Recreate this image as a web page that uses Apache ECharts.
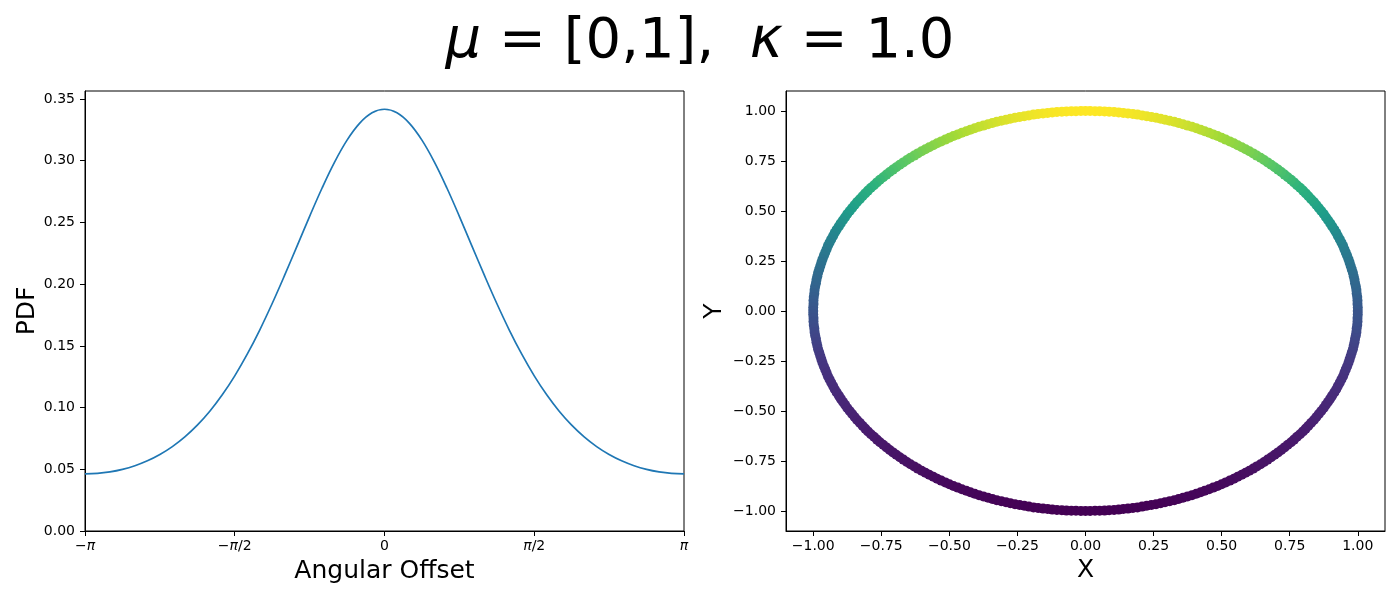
<!DOCTYPE html>
<html>
<head>
<meta charset="utf-8">
<script src="https://cdn.jsdelivr.net/npm/echarts@6/dist/echarts.min.js"></script>
<style>html,body{margin:0;padding:0;background:#fff}#c{width:1400px;height:600px}</style>
</head>
<body>
<div id="c"></div>
<script>
// ---- Left panel: von Mises PDF vs angular offset (radians) ----
const angleOffsets = [-3.14159,-3.0107,-2.8798,-2.7489,-2.6180,-2.4871,-2.3562,-2.2253,-2.0944,-1.9635,-1.8326,-1.7017,-1.5708,-1.4399,-1.3090,-1.1781,-1.0472,-0.9163,-0.7854,-0.6545,-0.5236,-0.3927,-0.2618,-0.1309,0,0.1309,0.2618,0.3927,0.5236,0.6545,0.7854,0.9163,1.0472,1.1781,1.3090,1.4399,1.5708,1.7017,1.8326,1.9635,2.0944,2.2253,2.3562,2.4871,2.6180,2.7489,2.8798,3.0107,3.14159];
const pdfValues = [0.04625,0.04664,0.04785,0.04990,0.05288,0.05686,0.06198,0.06839,0.07625,0.08574,0.09704,0.11033,0.12571,0.14324,0.16284,0.18431,0.20726,0.23108,0.25496,0.27791,0.29887,0.31667,0.33026,0.33880,0.34171,0.33880,0.33026,0.31667,0.29887,0.27791,0.25496,0.23108,0.20726,0.18431,0.16284,0.14324,0.12571,0.11033,0.09704,0.08574,0.07625,0.06839,0.06198,0.05686,0.05288,0.04990,0.04785,0.04664,0.04625];
const angleTickValues = [-3.14159,-1.5708,0,1.5708,3.14159];
const angleTickLabels = ['−π','−π/2','0','π/2','π'];
const pdfTickValues = [0,0.05,0.10,0.15,0.20,0.25,0.30,0.35];

// ---- Right panel: points on the unit circle ----
const circleX = [1.000,1.000,0.999,0.999,0.998,0.996,0.995,0.993,0.990,0.988,0.985,0.982,0.978,0.974,0.970,0.966,0.961,0.956,0.951,0.946,0.940,0.934,0.927,0.921,0.914,0.906,0.899,0.891,0.883,0.875,0.866,0.857,0.848,0.839,0.829,0.819,0.809,0.799,0.788,0.777,0.766,0.755,0.743,0.731,0.719,0.707,0.695,0.682,0.669,0.656,0.643,0.629,0.616,0.602,0.588,0.574,0.559,0.545,0.530,0.515,0.500,0.485,0.469,0.454,0.438,0.423,0.407,0.391,0.375,0.358,0.342,0.326,0.309,0.292,0.276,0.259,0.242,0.225,0.208,0.191,0.174,0.156,0.139,0.122,0.105,0.087,0.070,0.052,0.035,0.017,
0,-0.017,-0.035,-0.052,-0.070,-0.087,-0.105,-0.122,-0.139,-0.156,-0.174,-0.191,-0.208,-0.225,-0.242,-0.259,-0.276,-0.292,-0.309,-0.326,-0.342,-0.358,-0.375,-0.391,-0.407,-0.423,-0.438,-0.454,-0.469,-0.485,-0.500,-0.515,-0.530,-0.545,-0.559,-0.574,-0.588,-0.602,-0.616,-0.629,-0.643,-0.656,-0.669,-0.682,-0.695,-0.707,-0.719,-0.731,-0.743,-0.755,-0.766,-0.777,-0.788,-0.799,-0.809,-0.819,-0.829,-0.839,-0.848,-0.857,-0.866,-0.875,-0.883,-0.891,-0.899,-0.906,-0.914,-0.921,-0.927,-0.934,-0.940,-0.946,-0.951,-0.956,-0.961,-0.966,-0.970,-0.974,-0.978,-0.982,-0.985,-0.988,-0.990,-0.993,-0.995,-0.996,-0.998,-0.999,-0.999,-1.000,
-1.000,-1.000,-0.999,-0.999,-0.998,-0.996,-0.995,-0.993,-0.990,-0.988,-0.985,-0.982,-0.978,-0.974,-0.970,-0.966,-0.961,-0.956,-0.951,-0.946,-0.940,-0.934,-0.927,-0.921,-0.914,-0.906,-0.899,-0.891,-0.883,-0.875,-0.866,-0.857,-0.848,-0.839,-0.829,-0.819,-0.809,-0.799,-0.788,-0.777,-0.766,-0.755,-0.743,-0.731,-0.719,-0.707,-0.695,-0.682,-0.669,-0.656,-0.643,-0.629,-0.616,-0.602,-0.588,-0.574,-0.559,-0.545,-0.530,-0.515,-0.500,-0.485,-0.469,-0.454,-0.438,-0.423,-0.407,-0.391,-0.375,-0.358,-0.342,-0.326,-0.309,-0.292,-0.276,-0.259,-0.242,-0.225,-0.208,-0.191,-0.174,-0.156,-0.139,-0.122,-0.105,-0.087,-0.070,-0.052,-0.035,-0.017,
0,0.017,0.035,0.052,0.070,0.087,0.105,0.122,0.139,0.156,0.174,0.191,0.208,0.225,0.242,0.259,0.276,0.292,0.309,0.326,0.342,0.358,0.375,0.391,0.407,0.423,0.438,0.454,0.469,0.485,0.500,0.515,0.530,0.545,0.559,0.574,0.588,0.602,0.616,0.629,0.643,0.656,0.669,0.682,0.695,0.707,0.719,0.731,0.743,0.755,0.766,0.777,0.788,0.799,0.809,0.819,0.829,0.839,0.848,0.857,0.866,0.875,0.883,0.891,0.899,0.906,0.914,0.921,0.927,0.934,0.940,0.946,0.951,0.956,0.961,0.966,0.970,0.974,0.978,0.982,0.985,0.988,0.990,0.993,0.995,0.996,0.998,0.999,0.999,1.000];
const circleY = [0,0.017,0.035,0.052,0.070,0.087,0.105,0.122,0.139,0.156,0.174,0.191,0.208,0.225,0.242,0.259,0.276,0.292,0.309,0.326,0.342,0.358,0.375,0.391,0.407,0.423,0.438,0.454,0.469,0.485,0.500,0.515,0.530,0.545,0.559,0.574,0.588,0.602,0.616,0.629,0.643,0.656,0.669,0.682,0.695,0.707,0.719,0.731,0.743,0.755,0.766,0.777,0.788,0.799,0.809,0.819,0.829,0.839,0.848,0.857,0.866,0.875,0.883,0.891,0.899,0.906,0.914,0.921,0.927,0.934,0.940,0.946,0.951,0.956,0.961,0.966,0.970,0.974,0.978,0.982,0.985,0.988,0.990,0.993,0.995,0.996,0.998,0.999,0.999,1.000,
1.000,1.000,0.999,0.999,0.998,0.996,0.995,0.993,0.990,0.988,0.985,0.982,0.978,0.974,0.970,0.966,0.961,0.956,0.951,0.946,0.940,0.934,0.927,0.921,0.914,0.906,0.899,0.891,0.883,0.875,0.866,0.857,0.848,0.839,0.829,0.819,0.809,0.799,0.788,0.777,0.766,0.755,0.743,0.731,0.719,0.707,0.695,0.682,0.669,0.656,0.643,0.629,0.616,0.602,0.588,0.574,0.559,0.545,0.530,0.515,0.500,0.485,0.469,0.454,0.438,0.423,0.407,0.391,0.375,0.358,0.342,0.326,0.309,0.292,0.276,0.259,0.242,0.225,0.208,0.191,0.174,0.156,0.139,0.122,0.105,0.087,0.070,0.052,0.035,0.017,
0,-0.017,-0.035,-0.052,-0.070,-0.087,-0.105,-0.122,-0.139,-0.156,-0.174,-0.191,-0.208,-0.225,-0.242,-0.259,-0.276,-0.292,-0.309,-0.326,-0.342,-0.358,-0.375,-0.391,-0.407,-0.423,-0.438,-0.454,-0.469,-0.485,-0.500,-0.515,-0.530,-0.545,-0.559,-0.574,-0.588,-0.602,-0.616,-0.629,-0.643,-0.656,-0.669,-0.682,-0.695,-0.707,-0.719,-0.731,-0.743,-0.755,-0.766,-0.777,-0.788,-0.799,-0.809,-0.819,-0.829,-0.839,-0.848,-0.857,-0.866,-0.875,-0.883,-0.891,-0.899,-0.906,-0.914,-0.921,-0.927,-0.934,-0.940,-0.946,-0.951,-0.956,-0.961,-0.966,-0.970,-0.974,-0.978,-0.982,-0.985,-0.988,-0.990,-0.993,-0.995,-0.996,-0.998,-0.999,-0.999,-1.000,
-1.000,-1.000,-0.999,-0.999,-0.998,-0.996,-0.995,-0.993,-0.990,-0.988,-0.985,-0.982,-0.978,-0.974,-0.970,-0.966,-0.961,-0.956,-0.951,-0.946,-0.940,-0.934,-0.927,-0.921,-0.914,-0.906,-0.899,-0.891,-0.883,-0.875,-0.866,-0.857,-0.848,-0.839,-0.829,-0.819,-0.809,-0.799,-0.788,-0.777,-0.766,-0.755,-0.743,-0.731,-0.719,-0.707,-0.695,-0.682,-0.669,-0.656,-0.643,-0.629,-0.616,-0.602,-0.588,-0.574,-0.559,-0.545,-0.530,-0.515,-0.500,-0.485,-0.469,-0.454,-0.438,-0.423,-0.407,-0.391,-0.375,-0.358,-0.342,-0.326,-0.309,-0.292,-0.276,-0.259,-0.242,-0.225,-0.208,-0.191,-0.174,-0.156,-0.139,-0.122,-0.105,-0.087,-0.070,-0.052,-0.035,-0.017];
const circleTickValues = [-1,-0.75,-0.5,-0.25,0,0.25,0.5,0.75,1];

const titleText = '{i|μ} = [0,1],  {i|κ} = 1.0';

const FONT = 'DejaVu Sans';
const chart = echarts.init(document.getElementById('c'), null, {renderer: 'canvas'});

const linePoints = angleOffsets.map((a, i) => [a, pdfValues[i]]);
const circlePoints = circleX.map((x, i) => [x, circleY[i]]);

function fmtNum(v) { return v.toFixed(2).replace('-', '−'); }
function angleLabel(v) {
  let best = 0;
  angleTickValues.forEach((t, i) => { if (Math.abs(t - v) < Math.abs(angleTickValues[best] - v)) best = i; });
  return angleTickLabels[best].replace(/π/g, '{i|π}');
}

const axisCommon = {
  axisLine: {show: true, onZero: false, lineStyle: {color: '#000', width: 1}},
  axisTick: {show: true, length: 5, lineStyle: {color: '#000', width: 1}},
  splitLine: {show: false},
  nameTextStyle: {fontFamily: FONT, fontSize: 25, color: '#000'},
  nameLocation: 'middle'
};
const labelCommon = {fontFamily: FONT, fontSize: 14, color: '#000'};

const option = {
  animation: false,
  backgroundColor: '#fff',
  title: {
    text: titleText,
    left: 'center',
    top: 9,
    textStyle: {
      fontFamily: FONT, fontSize: 56, fontWeight: 'normal', color: '#000',
      rich: {i: {fontFamily: FONT, fontSize: 56, fontStyle: 'italic', color: '#000'}}
    }
  },
  grid: [
    {left: 85, right: 716, top: 91, bottom: 69, show: true, borderColor: '#000', borderWidth: 1},
    {left: 786, right: 15, top: 91, bottom: 69, show: true, borderColor: '#000', borderWidth: 1}
  ],
  xAxis: [
    Object.assign({}, axisCommon, {
      gridIndex: 0, type: 'value', min: -3.14159, max: 3.14159,
      name: 'Angular Offset', nameGap: 28,
      axisTick: Object.assign({}, axisCommon.axisTick, {customValues: angleTickValues}),
      axisLabel: Object.assign({}, labelCommon, {
        customValues: angleTickValues, margin: 8, formatter: angleLabel,
        rich: {i: {fontFamily: FONT, fontSize: 14, fontStyle: 'italic', color: '#000'}}
      })
    }),
    Object.assign({}, axisCommon, {
      gridIndex: 1, type: 'value', min: -1.1, max: 1.1,
      name: 'X', nameGap: 27,
      axisTick: Object.assign({}, axisCommon.axisTick, {customValues: circleTickValues}),
      axisLabel: Object.assign({}, labelCommon, {customValues: circleTickValues, margin: 8, formatter: fmtNum})
    })
  ],
  yAxis: [
    Object.assign({}, axisCommon, {
      gridIndex: 0, type: 'value', min: 0, max: 0.3565,
      name: 'PDF', nameGap: 45,
      axisTick: Object.assign({}, axisCommon.axisTick, {customValues: pdfTickValues}),
      axisLabel: Object.assign({}, labelCommon, {customValues: pdfTickValues, margin: 10, formatter: fmtNum})
    }),
    Object.assign({}, axisCommon, {
      gridIndex: 1, type: 'value', min: -1.1, max: 1.1,
      name: 'Y', nameGap: 59,
      axisTick: Object.assign({}, axisCommon.axisTick, {customValues: circleTickValues}),
      axisLabel: Object.assign({}, labelCommon, {customValues: circleTickValues, margin: 10, formatter: fmtNum})
    })
  ],
  visualMap: {
    show: false, type: 'continuous', seriesIndex: 1, dimension: 1, min: -1, max: 1,
    inRange: {color: ['#440154','#46085c','#471365','#481a6c','#482475','#472d7b','#453781','#3f4788','#39568c','#32658e','#2c738e','#25858e','#1f9e89','#2db27d','#5ec962','#a2da37','#fde725']}
  },
  series: [
    {
      type: 'line', xAxisIndex: 0, yAxisIndex: 0, data: linePoints,
      smooth: 0.4, showSymbol: false, symbol: 'none',
      lineStyle: {color: '#1f77b4', width: 1.7}, silent: true
    },
    {
      type: 'scatter', xAxisIndex: 1, yAxisIndex: 1, data: circlePoints,
      symbol: 'circle', symbolSize: 10, silent: true,
      itemStyle: {opacity: 1}
    }
  ]
};
chart.setOption(option);
</script>
</body>
</html>
